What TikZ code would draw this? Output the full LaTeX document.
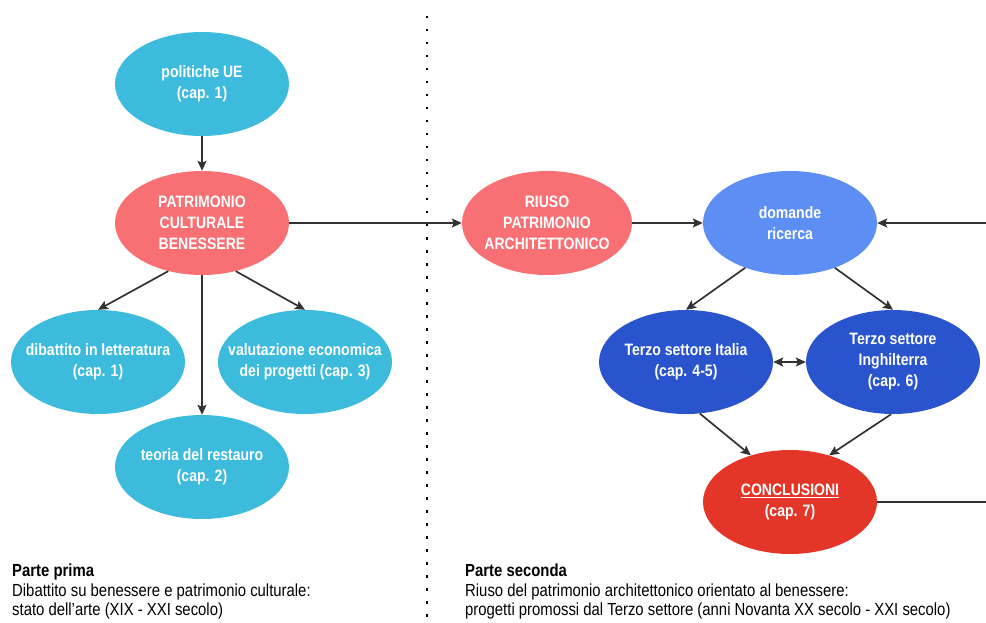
\documentclass[tikz,border=0pt]{standalone}
\usepackage{fontspec}
\setmainfont{Liberation Sans}[FakeStretch=0.85]
\usetikzlibrary{shapes.geometric,arrows.meta}
\definecolor{cyanbox}{RGB}{60,187,220}
\definecolor{salmon}{RGB}{248,112,115}
\definecolor{skyblue}{RGB}{92,142,244}
\definecolor{royal}{RGB}{42,84,206}
\definecolor{redbox}{RGB}{228,54,40}
\definecolor{wire}{RGB}{50,50,50}
\tikzset{
  x=1pt, y=-1pt,
  bubble/.style={ellipse, draw=none, minimum width=174pt, minimum height=104pt,
    inner xsep=-60pt, inner ysep=-30pt, align=center, text=white,
    font=\fontsize{16.5}{21}\selectfont\bfseries},
  tip/.tip={Stealth[length=10pt,width=9pt,inset=2pt]},
  link/.style={draw=wire, line width=1.7pt, -tip},
  plain/.style={draw=wire, line width=1.7pt},
  caption/.style={anchor=north west, align=left, inner sep=0pt,
    font=\fontsize{17.5}{19.5}\selectfont},
}
\begin{document}
\begin{tikzpicture}
\useasboundingbox (0,0) rectangle (986,623);

% dividing line between the two parts
\coordinate (divtop) at (427,16);
\coordinate (divbot) at (427,623);
\draw[line width=1.8pt, dash pattern=on 2.5pt off 10.5pt, black] (divtop) -- (divbot);

% first part
\node[bubble, fill=cyanbox] (ue) at (202,84) {politiche UE\\(cap. 1)};
\node[bubble, fill=salmon] (pcb) at (202,223) {PATRIMONIO\\CULTURALE\\BENESSERE};
\node[bubble, fill=cyanbox] (dib) at (98,362) {dibattito in letteratura\\(cap. 1)};
\node[bubble, fill=cyanbox] (val) at (305,362) {valutazione economica\\dei progetti (cap. 3)};
\node[bubble, fill=cyanbox] (teo) at (202,467) {teoria del restauro\\(cap. 2)};

% second part
\node[bubble, fill=salmon, minimum width=170pt] (riu) at (547,223) {RIUSO\\PATRIMONIO\\ARCHITETTONICO};
\node[bubble, fill=skyblue] (dom) at (790,223) {domande\\ricerca};
\node[bubble, fill=royal] (ita) at (686,362) {Terzo settore Italia\\(cap. 4-5)};
\node[bubble, fill=royal] (ing) at (893,362) {Terzo settore\\Inghilterra\\(cap. 6)};
\node[bubble, fill=redbox] (con) at (790,502) {\underline{CONCLUSIONI}\\(cap. 7)};

% connectors
\draw[link] (ue) -- (pcb);
\draw[link] (pcb.east) -- (riu.west);
\draw[link] (riu.east) -- (dom.west);
\draw[link] (pcb.235) -- (dib.north);
\draw[link] (pcb.305) -- (val.north);
\draw[link] (pcb.south) -- (teo.north);
\draw[link] (dom.225) -- (ita.north);
\draw[link] (dom.315) -- (ing.north);
\draw[draw=wire, line width=1.7pt, tip-tip] (ita.east) -- (ing.west);
\draw[link] (ita.285) -- (con.130);
\draw[link] (ing.268) -- (con.50);
\coordinate (loopin) at (986,223);
\coordinate (loopout) at (986,502);
\draw[link] (loopin) -- (dom.east);
\draw[plain] (con.east) -- (loopout);

% captions
\node[caption] (cap1) at (12,564) {\textbf{Parte prima}\\Dibattito su benessere e patrimonio culturale:\\stato dell'arte (XIX - XXI secolo)};
\node[caption] (cap2) at (465,564) {\textbf{Parte seconda}\\Riuso del patrimonio architettonico orientato al benessere:\\progetti promossi dal Terzo settore (anni Novanta XX secolo - XXI secolo)};
\end{tikzpicture}
\end{document}
